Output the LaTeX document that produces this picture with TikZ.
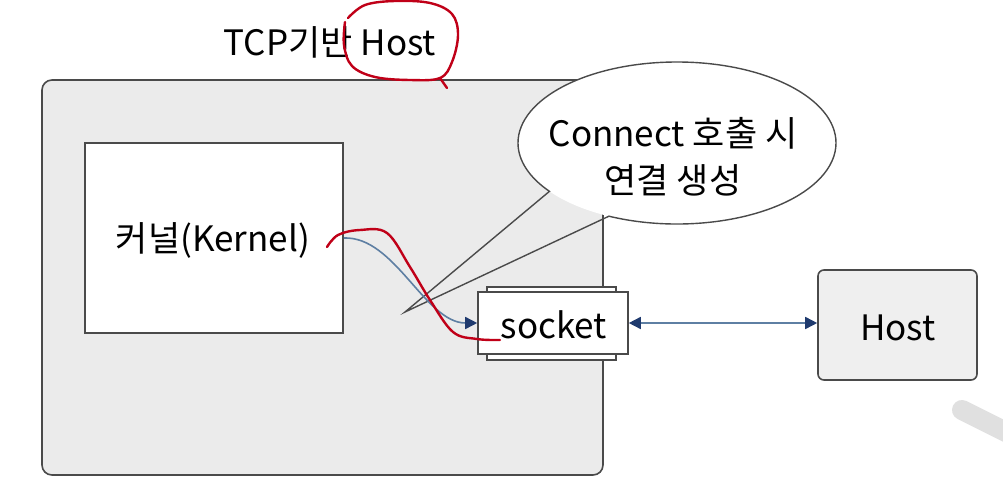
\documentclass[tikz,border=0pt]{standalone}
\usepackage{fontspec}
\setmainfont{Noto Sans CJK KR}
\usetikzlibrary{arrows.meta,shapes.geometric,shapes.callouts}
\definecolor{boxgray}{HTML}{EBEBEB}
\definecolor{edgegray}{HTML}{4A4A4A}
\definecolor{hostfill}{HTML}{EFEFEF}
\definecolor{linkblue}{HTML}{5E7FA3}
\definecolor{tipnavy}{HTML}{1F3A6E}
\definecolor{penred}{HTML}{C00018}
\tikzset{
  lbl/.style={font=\fontsize{35}{40}\selectfont, text=black},
  box/.style={draw=edgegray, line width=1.6pt, inner sep=0pt},
  conn/.style={draw=linkblue, line width=1.6pt, -{Triangle[length=12pt,width=12pt,fill=tipnavy,color=tipnavy]}},
  biconn/.style={draw=linkblue, line width=1.6pt, {Triangle[length=12pt,width=12pt,fill=tipnavy,color=tipnavy]}-{Triangle[length=12pt,width=12pt,fill=tipnavy,color=tipnavy]}},
  pen/.style={draw=penred, line width=2.4pt, line cap=round, line join=round}
}
\begin{document}
\begin{tikzpicture}[x=1pt,y=-1pt]
\useasboundingbox[fill=white] (0,0) rectangle (1003,495);
% light sweep at bottom right
\draw[line width=20pt, color=black!12, line cap=round] (962,410) -- (1010,434);
% title
\node[lbl, anchor=center] (title) at (330,42) {TCP기반 Host};
% big host box
\node[box, fill=boxgray, rounded corners=10pt, minimum width=561pt, minimum height=395pt] (hostbox) at (322.5,277.5) {};
% kernel
\node[box, fill=white, minimum width=258pt, minimum height=190pt] (kernel) at (214,238) {};
\node[lbl] (kerneltext) at (213,240) {커널(Kernel)};
% callout fill (body only)
\node[ellipse, fill=white, minimum width=318pt, minimum height=162pt, inner sep=0pt] (bubblefill) at (677,143) {};
% socket with stacked bars
\draw[edgegray, line width=1.3pt, fill=white] (487,287) rectangle (616,360);
\node[box, fill=white, minimum width=150pt, minimum height=62pt] (socket) at (553,323) {};
\node[lbl] (sockettext) at (554,325) {socket};
% remote host
\node[box, fill=hostfill, rounded corners=6pt, minimum width=159pt, minimum height=110pt] (host) at (897.5,325) {};
\node[lbl] (hosttext) at (898,328) {Host};
% callout outline with pointer
\coordinate (tip) at (405,312);
\node[ellipse callout, draw=edgegray, line width=1.4pt, minimum width=318pt, minimum height=162pt, inner sep=0pt, callout absolute pointer={(tip)}, callout pointer arc=28] (bubble) at (677,143) {};
\node[lbl, align=center, font=\fontsize{35}{47}\selectfont] (bubbletext) at (673,157) {Connect 호출 시\\연결 생성};
% connectors
\draw[conn] (kernel.east) .. controls (395,236) and (425,323) .. (socket.west);
\draw[biconn] (socket.east) -- (socket.east -| host.west);
% red hand annotations
\draw[pen] plot[smooth, tension=0.6] coordinates {(345,22) (344,45) (352,66) (375,77) (410,80) (440,78) (452,62) (458,35) (452,14) (430,3) (395,1) (365,5) (348,18)};
\draw[pen] (440,78) -- (447,88);
\draw[pen] plot[smooth, tension=0.6] coordinates {(327,247) (338,235) (360,230) (387,233) (410,267) (430,300) (453,332) (477,339) (500,340)};
\end{tikzpicture}
\end{document}
